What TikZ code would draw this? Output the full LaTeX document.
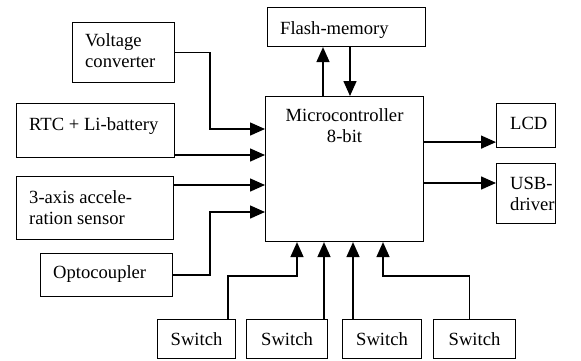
\documentclass[tikz,border=0pt]{standalone}
\usepackage{fontspec}
\setmainfont{Liberation Serif}
\usetikzlibrary{arrows.meta,calc}
\begin{document}
\begin{tikzpicture}[x=1pt,y=-1pt,
  box/.style={draw, line width=1.1pt, inner sep=0pt, anchor=north west},
  lbl/.style={inner sep=0pt, anchor=north west, align=left, font=\fontsize{18.6}{21}\selectfont},
  swbox/.style={box, minimum height=39pt, font=\fontsize{18.6}{21}\selectfont},
  arr/.style={line width=1.5pt, -{Triangle[length=15pt,width=13pt]}}]
\useasboundingbox (0,0) rectangle (581,360);

% boxes
\node[box, minimum width=102pt, minimum height=60pt] (vc) at (72,22) {};
\node[box, minimum width=158pt, minimum height=54pt] (rtc) at (16,103) {};
\node[box, minimum width=157pt, minimum height=63pt] (sens) at (16,176) {};
\node[box, minimum width=132pt, minimum height=43pt] (opto) at (40,253) {};
\node[box, minimum width=158pt, minimum height=39pt] (flash) at (267,7) {};
\node[box, minimum width=158pt, minimum height=145pt] (mcu) at (265,96) {};
\node[box, minimum width=59pt, minimum height=44pt] (lcd) at (496,103) {};
\node[box, minimum width=59pt, minimum height=60pt] (usb) at (496,163) {};
\node[swbox, minimum width=78pt] (sw1) at (157,319) {Switch};
\node[swbox, minimum width=81pt] (sw2) at (246,319) {Switch};
\node[swbox, minimum width=79pt] (sw3) at (342,319) {Switch};
\node[swbox, minimum width=82pt] (sw4) at (433,319) {Switch};

% texts
\node[lbl] (tvc) at ($(vc.north west)+(13,11)$) {Voltage\\converter};
\node[lbl] (trtc) at ($(rtc.north west)+(13,14)$) {RTC + Li-battery};
\node[lbl] (tsens) at ($(sens.north west)+(13,14)$) {3-axis accele-\\ration sensor};
\node[lbl] (topto) at ($(opto.north west)+(13,12.5)$) {Optocoupler};
\node[lbl] (tflash) at ($(flash.north west)+(13,14)$) {Flash-memory};
\node[lbl, anchor=north, align=center] (tmcu) at ($(mcu.north)+(0,12)$) {Microcontroller\\8-bit};
\node[lbl] (tlcd) at ($(lcd.north west)+(14,14)$) {LCD};
\node[lbl] (tusb) at ($(usb.north west)+(14,14)$) {USB-\\driver};

% connection points
\coordinate (m1) at ($(mcu.north west)+(0,33)$);
\coordinate (m2) at ($(mcu.north west)+(0,59)$);
\coordinate (m3) at ($(mcu.north west)+(0,89)$);
\coordinate (m4) at ($(mcu.north west)+(0,116)$);
\coordinate (b1) at ($(mcu.south west)+(32,0)$);
\coordinate (b2) at ($(mcu.south west)+(59,0)$);
\coordinate (b3) at ($(mcu.south west)+(88,0)$);
\coordinate (b4) at ($(mcu.south west)+(118,0)$);
\coordinate (f1) at ($(mcu.north west)+(58,0)$);
\coordinate (f2) at ($(mcu.north west)+(85,0)$);
\coordinate (r1) at ($(lcd.south west)+(0,-6)$);
\coordinate (r2) at ($(usb.north west)+(0,20)$);

% connectors
\draw[arr] (vc.east) -- ++(35,0) |- (m1);
\draw[arr] (rtc.east |- m2) -- (m2);
\draw[arr] (sens.east |- m3) -- (m3);
\draw[arr] (opto.east) -- ++(37,0) |- (m4);
\draw[arr] (f1) -- (flash.south -| f1);
\draw[arr] (flash.south -| f2) -- (f2);
\draw[arr] (mcu.east |- r1) -- (r1);
\draw[arr] (mcu.east |- r2) -- (r2);
\draw[arr] ($(sw1.north east)+(-8,0)$) |- ($(b1)+(0,34)$) -- (b1);
\draw[arr] (sw2.north -| b2) -- (b2);
\draw[arr] (sw3.north -| b3) -- (b3);
\draw[arr] ($(sw4.north)+(-5,0)$) |- ($(b4)+(0,34)$) -- (b4);
\end{tikzpicture}
\end{document}
